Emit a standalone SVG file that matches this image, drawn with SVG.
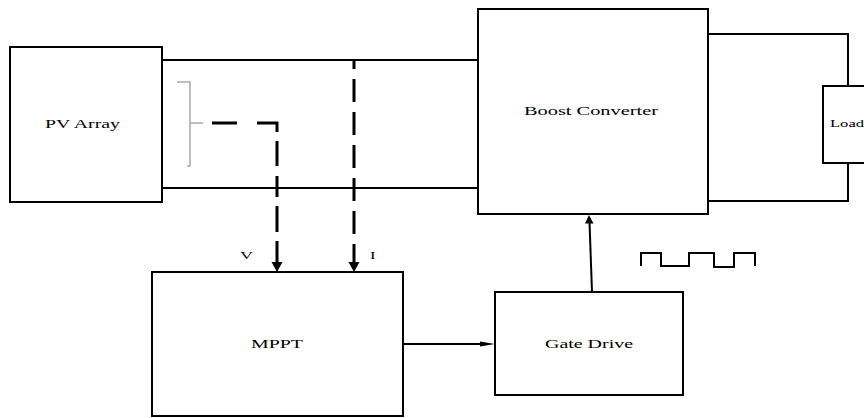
<svg xmlns="http://www.w3.org/2000/svg" width="864" height="418" viewBox="0 0 864 418">
<style>
.box{fill:#fff;stroke:#000;stroke-width:2}
.wire{fill:none;stroke:#000;stroke-width:2}
.dash{fill:none;stroke:#000;stroke-width:3}
.lbl{font-family:"Liberation Serif","Times New Roman",serif;font-size:11.5px;fill:#000}
.head{fill:#000;stroke:none}
</style>
<rect width="864" height="418" fill="#fff"/>
<g id="connectors">
  <path class="wire" d="M162,60 H478"/>
  <path class="wire" d="M162,188 H478"/>
  <path class="wire" d="M708,34 H848 V86"/>
  <path class="wire" d="M708,201 H848 V163"/>
  <path d="M177,82 H190 V166 H187 M190,123 H203" fill="none" stroke="#aaa" stroke-width="1.5"/>
  <path class="dash" d="M212,123 H277 V263" stroke-dasharray="25 20 29 9 25 10 21 9 26 9 21 100"/>
  <polygon class="head" points="271.5,262 282.5,262 277,272"/>
  <path class="dash" d="M354,60 V263" stroke-dasharray="9 10 23 10 23 10 23 10 23 10 23 10 23 100"/>
  <polygon class="head" points="348.5,262 359.5,262 354,272"/>
  <path class="wire" d="M403,344 H482" stroke-width="1.5"/>
  <polygon class="head" points="480,341.5 495,344 480,346.5"/>
  <path class="wire" d="M592,292 L589.5,222" stroke-width="1.5"/>
  <polygon class="head" points="585,223.5 593.5,223.5 589,215"/>
  <path class="wire" d="M641,266 V253 H661 V266 H689 V253 H714 V267 H734 V253 H755 V266" stroke-width="1.8"/>
</g>
<g id="pv-array">
  <rect class="box" x="10" y="47" width="152" height="155"/>
  <text class="lbl" x="45" y="128" textLength="75" lengthAdjust="spacingAndGlyphs">PV Array</text>
</g>
<g id="boost-converter">
  <rect class="box" x="478" y="9" width="230" height="205"/>
  <text class="lbl" x="524" y="115" textLength="134" lengthAdjust="spacingAndGlyphs">Boost Converter</text>
</g>
<g id="load">
  <rect class="box" x="823" y="86" width="50" height="77"/>
  <text class="lbl" x="830" y="127" font-size="10" style="font-size:10px" textLength="34" lengthAdjust="spacingAndGlyphs">Load</text>
</g>
<g id="mppt">
  <rect class="box" x="152" y="272" width="251" height="144"/>
  <text class="lbl" x="251" y="348" textLength="52" lengthAdjust="spacingAndGlyphs">MPPT</text>
</g>
<g id="gate-drive">
  <rect class="box" x="495" y="292" width="188" height="103"/>
  <text class="lbl" x="545" y="348" textLength="88" lengthAdjust="spacingAndGlyphs">Gate Drive</text>
</g>
<g id="labels">
  <text class="lbl" x="240" y="259" style="font-size:9.5px" textLength="13" lengthAdjust="spacingAndGlyphs">V</text>
  <text class="lbl" x="370" y="259" style="font-size:9.5px" textLength="5.5" lengthAdjust="spacingAndGlyphs">I</text>
</g>
</svg>
